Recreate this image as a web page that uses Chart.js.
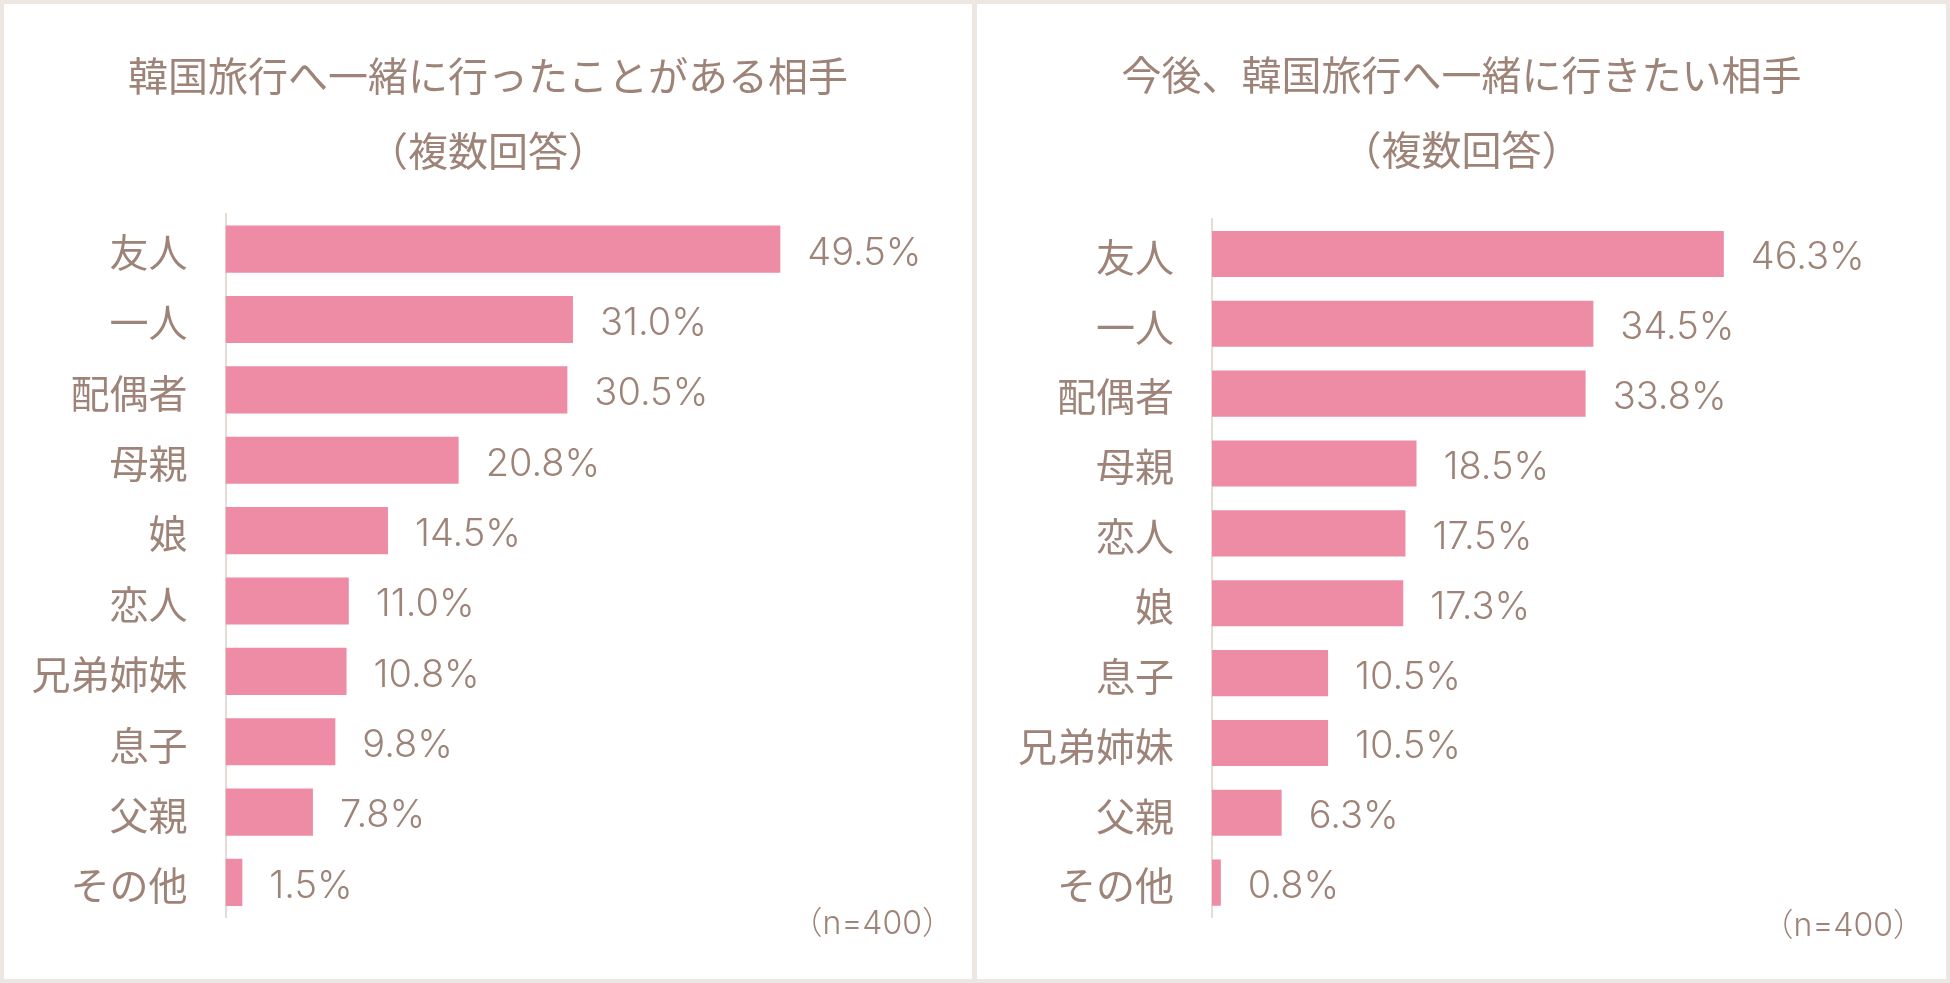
<!DOCTYPE html>
<html lang="ja">
<head>
<meta charset="utf-8">
<script src="https://cdn.jsdelivr.net/npm/chart.js@4.4.1/dist/chart.umd.min.js"></script>
<style>
  html, body { margin: 0; padding: 0; }
  body { width: 1950px; height: 983px; background: #ece7e2; position: relative; overflow: hidden; }
  .panel { position: absolute; top: 4px; height: 975px; background: #ffffff; }
  #p1 { left: 4px; width: 968px; }
  #p2 { left: 977px; width: 969px; }
  canvas { display: block; }
</style>
</head>
<body>
<div class="panel" id="p1"><canvas id="c1" width="968" height="975"></canvas></div>
<div class="panel" id="p2"><canvas id="c2" width="969" height="975"></canvas></div>
<script>
// ---- data ----
const leftTitle = ['韓国旅行へ一緒に行ったことがある相手', '（複数回答）'];
const leftCategories = ['友人', '一人', '配偶者', '母親', '娘', '恋人', '兄弟姉妹', '息子', '父親', 'その他'];
const leftValues = [49.5, 31.0, 30.5, 20.8, 14.5, 11.0, 10.8, 9.8, 7.8, 1.5];

const rightTitle = ['今後、韓国旅行へ一緒に行きたい相手', '（複数回答）'];
const rightCategories = ['友人', '一人', '配偶者', '母親', '恋人', '娘', '息子', '兄弟姉妹', '父親', 'その他'];
const rightValues = [46.3, 34.5, 33.8, 18.5, 17.5, 17.3, 10.5, 10.5, 6.3, 0.8];

const sampleNote = '（n=400）';

// ---- styles ----
const TEXT = '#9e8478';
const BAR = '#ee8ca5';
const AXIS = '#e4dcd6';
const CJK = "'Noto Sans CJK JP', 'Noto Sans', sans-serif";
const NUM = "Inter, 'Noto Sans CJK JP', sans-serif";

const valueLabels = {
  id: 'valueLabels',
  afterDatasetsDraw(chart, args, opts) {
    const ctx = chart.ctx;
    const meta = chart.getDatasetMeta(0);
    const data = chart.data.datasets[0].data;
    ctx.save();
    ctx.font = '300 38px ' + NUM;
    ctx.fillStyle = TEXT;
    ctx.textAlign = 'left';
    ctx.textBaseline = 'middle';
    meta.data.forEach((bar, i) => {
      ctx.fillText(data[i].toFixed(1) + '%', bar.x + 27, bar.y + 4);
    });
    ctx.font = '300 32px ' + NUM;
    ctx.textAlign = 'right';
    ctx.fillText(sampleNote, opts.noteX, opts.noteY);
    ctx.restore();
  }
};

function makeChart(id, title, cats, vals, cfg) {
  return new Chart(document.getElementById(id), {
    type: 'bar',
    data: {
      labels: cats,
      datasets: [{
        data: vals,
        backgroundColor: BAR,
        borderWidth: 0,
        categoryPercentage: 1,
        barPercentage: cfg.barPct
      }]
    },
    plugins: [valueLabels],
    options: {
      indexAxis: 'y',
      responsive: false,
      devicePixelRatio: 1,
      animation: false,
      layout: { padding: { left: 0, top: 0, right: 0, bottom: cfg.padBottom } },
      plugins: {
        legend: { display: false },
        tooltip: { enabled: false },
        title: {
          display: true,
          text: title,
          color: TEXT,
          font: { family: CJK, size: 40, weight: '400', lineHeight: 1.875 },
          padding: { top: cfg.titleTop, bottom: cfg.titleBottom }
        },
        valueLabels: { noteX: cfg.noteX, noteY: cfg.noteY }
      },
      scales: {
        x: { display: false, min: 0, max: cfg.xMax },
        y: {
          afterFit(scale) { scale.width = cfg.axisX; },
          grid: { display: false, drawTicks: false },
          border: { display: true, color: AXIS, width: 2 },
          ticks: { color: TEXT, padding: 38, labelOffset: 3, font: { family: CJK, size: 39, weight: '400' } }
        }
      }
    }
  });
}

makeChart('c1', leftTitle, leftCategories, leftValues, {
  axisX: 221.5, xMax: 66.6, padBottom: 57, titleTop: 34, titleBottom: 26, barPct: 0.67,
  noteX: 950, noteY: 920
});
makeChart('c2', rightTitle, rightCategories, rightValues, {
  axisX: 235, xMax: 66.4, padBottom: 57, titleTop: 33, titleBottom: 32, barPct: 0.66,
  noteX: 948, noteY: 922
});
</script>
</body>
</html>
